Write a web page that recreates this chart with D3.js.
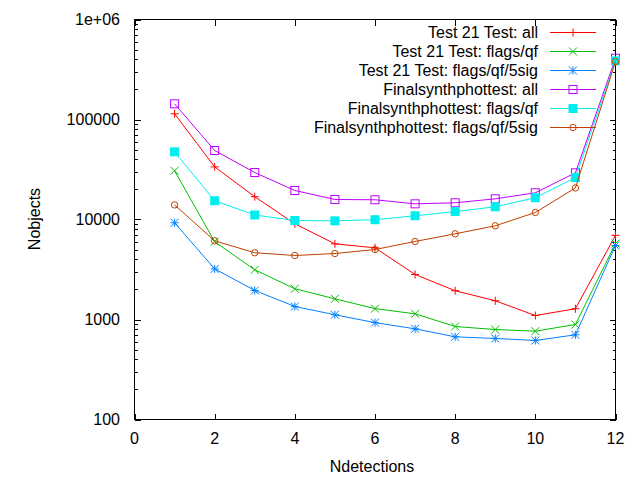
<!DOCTYPE html>
<html><head><meta charset="utf-8">
<script src="https://cdn.jsdelivr.net/npm/d3@7"></script>
<style>body{margin:0;background:#fff}svg{display:block}text{font-family:"Liberation Sans",Arial,sans-serif}</style>
</head><body>
<svg id="c" width="640" height="480"></svg>
<script>
const xs = [1,2,3,4,5,6,7,8,9,10,11,12];
const seriesNames = ["Test 21 Test: all","Test 21 Test: flags/qf","Test 21 Test: flags/qf/5sig","Finalsynthphottest: all","Finalsynthphottest: flags/qf","Finalsynthphottest: flags/qf/5sig"];
const test21All = [114000,33600,16900,9060,5710,5210,2820,1940,1540,1096,1280,6950];
const test21Flags = [30700,6000,3140,2030,1610,1285,1140,851,794,764,891,5750];
const test21Sig = [9270,3210,1950,1350,1115,930,807,671,646,617,703,5500];
const finalAll = [143500,49000,29500,19500,15850,15750,14350,14700,16100,18500,29300,410000];
const finalFlags = [47500,15400,11100,9770,9700,9950,10900,12000,13400,16500,26300,386000];
const finalSig = [14000,6120,4650,4365,4570,5010,6030,7190,8650,11750,20700,380000];
const xTicks = [0,2,4,6,8,10,12];
const yTicks = [100,1000,10000,100000,1000000];
const yTickLabels = ["100","1000","10000","100000","1e+06"];

const seriesVals = [test21All,test21Flags,test21Sig,finalAll,finalFlags,finalSig];
const colors = ["#ff0000","#00c000","#0080ff","#c000ff","#00eeee","#c04000"];
const markers = ["plus","cross","star","square","fsquare","circle"];

const FS = 16;
const L=134.5, R=615.5, T=19.5, B=419.5;
const svg = d3.select("#c");
const x = d3.scaleLinear().domain([0,12]).range([L,R]);
const y = d3.scaleLog().domain([100,1e6]).range([B,T]);

svg.append("rect").attr("x",L).attr("y",T).attr("width",R-L).attr("height",B-T)
  .attr("fill","none").attr("stroke","#000").attr("stroke-width",1).attr("shape-rendering","crispEdges");

const g = svg.append("g").attr("shape-rendering","crispEdges").attr("stroke","#000").attr("stroke-width",1);
const minor=[];
for(let d=100; d<1e6; d*=10){ for(let k=2;k<=9;k++) minor.push(d*k); }
yTicks.forEach(v=>{
  const yy=Math.round(y(v))+0.5;
  g.append("line").attr("x1",L).attr("x2",L+6).attr("y1",yy).attr("y2",yy);
  g.append("line").attr("x1",R).attr("x2",R-6).attr("y1",yy).attr("y2",yy);
});
minor.forEach(v=>{
  const yy=Math.round(y(v))+0.5;
  g.append("line").attr("x1",L).attr("x2",L+3).attr("y1",yy).attr("y2",yy);
  g.append("line").attr("x1",R).attr("x2",R-3).attr("y1",yy).attr("y2",yy);
});
xTicks.forEach(v=>{
  const xx=Math.round(x(v))+0.5;
  g.append("line").attr("x1",xx).attr("x2",xx).attr("y1",B).attr("y2",B-6);
  g.append("line").attr("x1",xx).attr("x2",xx).attr("y1",T).attr("y2",T+6);
});
yTicks.forEach((v,i)=>{
  svg.append("text").attr("x",120).attr("y",y(v)+5.5).attr("text-anchor","end")
    .attr("font-size",FS).attr("fill","#000").text(yTickLabels[i]);
});
xTicks.forEach(v=>{
  svg.append("text").attr("x",x(v)).attr("y",443.5).attr("text-anchor","middle")
    .attr("font-size",FS).attr("fill","#000").text(v);
});
svg.append("text").attr("x",372).attr("y",471.5).attr("text-anchor","middle")
  .attr("font-size",FS).text("Ndetections");
svg.append("text").attr("transform","translate(40,219) rotate(-90)").attr("text-anchor","middle")
  .attr("font-size",FS).text("Nobjects");

function drawMarker(sel,type,cx,cy,color){
  const s=4;
  if(type==="plus"){
    sel.append("path").attr("d",`M${cx-s},${cy}H${cx+s}M${cx},${cy-s}V${cy+s}`).attr("stroke",color).attr("fill","none");
  } else if(type==="cross"){
    sel.append("path").attr("d",`M${cx-s},${cy-s}L${cx+s},${cy+s}M${cx-s},${cy+s}L${cx+s},${cy-s}`).attr("stroke",color).attr("fill","none");
  } else if(type==="star"){
    sel.append("path").attr("d",`M${cx-s},${cy}H${cx+s}M${cx},${cy-s}V${cy+s}M${cx-s},${cy-s}L${cx+s},${cy+s}M${cx-s},${cy+s}L${cx+s},${cy-s}`).attr("stroke",color).attr("fill","none");
  } else if(type==="square"){
    sel.append("rect").attr("x",cx-s).attr("y",cy-s).attr("width",2*s).attr("height",2*s).attr("stroke",color).attr("fill","none");
  } else if(type==="fsquare"){
    sel.append("rect").attr("x",cx-s-0.5).attr("y",cy-s-0.5).attr("width",2*s+1).attr("height",2*s+1).attr("fill",color);
  } else if(type==="circle"){
    sel.append("circle").attr("cx",cx).attr("cy",cy).attr("r",3.2).attr("stroke",color).attr("fill","none");
  }
}

const line = d3.line().x((d,i)=>x(xs[i])).y(d=>y(d));
seriesVals.forEach((vals,si)=>{
  const gs = svg.append("g");
  gs.append("path").attr("d",line(vals)).attr("fill","none").attr("stroke",colors[si]).attr("stroke-width",1);
  vals.forEach((v,i)=>drawMarker(gs,markers[si],x(xs[i]),y(v),colors[si]));
});

const rowY=[32.5,51.5,70.5,89.5,108.5,127.5];
seriesNames.forEach((nm,si)=>{
  const yy=rowY[si];
  svg.append("text").attr("x",538).attr("y",yy+5.5).attr("text-anchor","end").attr("font-size",FS).text(nm);
  svg.append("line").attr("x1",550).attr("x2",596).attr("y1",yy).attr("y2",yy).attr("stroke",colors[si]);
  drawMarker(svg,markers[si],573,yy,colors[si]);
});
</script>
</body></html>
